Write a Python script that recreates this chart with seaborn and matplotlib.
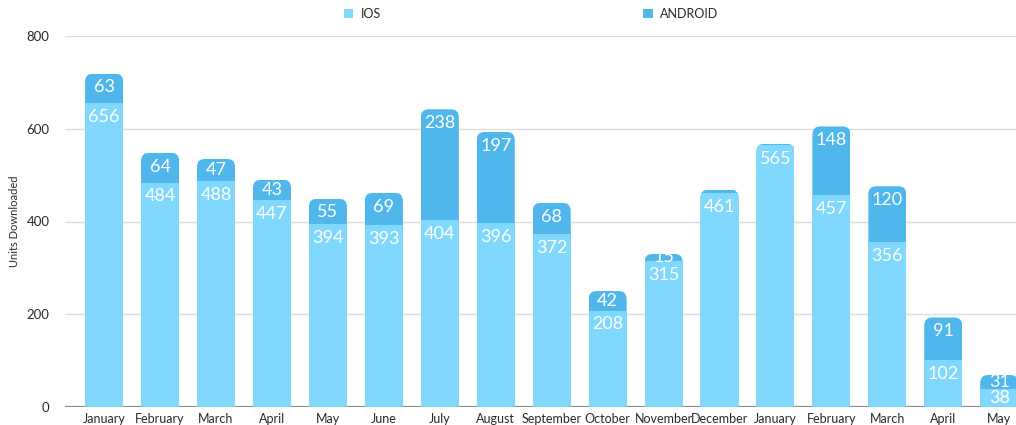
import numpy as np
import pandas as pd
import matplotlib
matplotlib.use("Agg")
import matplotlib.pyplot as plt
import seaborn as sns
from matplotlib.patches import FancyBboxPatch, Patch
from matplotlib.transforms import Bbox, TransformedBbox

months = ["January", "February", "March", "April", "May", "June", "July", "August",
          "September", "October", "November", "December", "January", "February",
          "March", "April", "May"]
ios = [656, 484, 488, 447, 394, 393, 404, 396, 372, 208, 315, 461, 565, 457, 356, 102, 38]
android = [63, 64, 47, 43, 55, 69, 238, 197, 68, 42, 15, 8, 3, 148, 120, 91, 31]
yticks = [0, 200, 400, 600, 800]

IOS_C = "#80d8fc"
AND_C = "#4fb7ec"

sns.set_theme(style="white")
plt.rcParams['font.family'] = ['Lato', 'DejaVu Sans']

W, H = 1016, 425
fig = plt.figure(figsize=(W / 100, H / 100), dpi=100)
ax_l, ax_r, ax_t, ax_b = 65, 1016, 36, 407
ax = fig.add_axes([ax_l / W, 1 - ax_b / H, (ax_r - ax_l) / W, (ax_b - ax_t) / H])

n = len(ios)
df = pd.DataFrame({"idx": list(range(n)), "ios": ios, "android": android})
df["total"] = df["ios"] + df["android"]

sns.barplot(data=df, x="idx", y="total", color=AND_C, saturation=1, width=0.68,
            linewidth=0, edgecolor="none", ax=ax, zorder=2)
sns.barplot(data=df, x="idx", y="ios", color=IOS_C, saturation=1, width=0.68,
            linewidth=0, edgecolor="none", ax=ax, zorder=2)

xmin, xmax = -0.7, 16.3
ax.set_xlim(xmin, xmax)
ax.set_ylim(0, 800)

px_x = (ax_r - ax_l) / (xmax - xmin)
px_y = (ax_b - ax_t) / 800
r_px = 8
rs = r_px / px_x
m_aspect = px_x / px_y

tot_patches = ax.patches[:n]
ios_patches = ax.patches[n:2 * n]
for i in range(n):
    p = tot_patches[i]
    x0, w, h = p.get_x(), p.get_width(), p.get_height()
    clip = FancyBboxPatch((x0, -60), w, h + 60,
                          boxstyle=f"round,pad=0,rounding_size={rs}",
                          mutation_aspect=m_aspect, transform=ax.transData)
    p.set_clip_path(clip)
    ios_patches[i].set_clip_path(clip)

    cbox = TransformedBbox(Bbox([[x0, 0], [x0 + w, h]]), ax.transData)
    yi = ios[i] - min(30, ios[i] / 2)
    t = ax.text(i, yi, str(ios[i]), ha="center", va="center", color="white",
                fontsize=13, zorder=5)
    t.set_clip_box(cbox)
    t.set_clip_on(True)
    if android[i] >= 10:
        ya = h - min(30, android[i] / 2)
        t = ax.text(i, ya, str(android[i]), ha="center", va="center", color="white",
                    fontsize=13, zorder=5)
        t.set_clip_box(cbox)
        t.set_clip_on(True)

ax.set_yticks(yticks)
ax.set_xticks(range(n))
ax.set_xticklabels(months)
ax.yaxis.grid(True, color="#dcdcdc", linewidth=1)
ax.set_axisbelow(True)
ax.axhline(0, color="#8a8a8a", linewidth=1.6, zorder=1)
for s in ax.spines.values():
    s.set_visible(False)
ax.tick_params(axis="both", length=0, colors="#2a2a2a")
ax.tick_params(axis="y", pad=11, labelsize=9.5)
ax.tick_params(axis="x", pad=4, labelsize=9)
ax.set_xlabel("")
ax.set_ylabel("Units Downloaded", fontsize=8, color="#2a2a2a", labelpad=5)

handles = [Patch(facecolor=IOS_C, edgecolor="none", label="IOS"),
           Patch(facecolor=AND_C, edgecolor="none", label="ANDROID")]
fig.legend(handles=handles, loc="upper left", bbox_to_anchor=(336 / W, 1.0),
           ncol=2, frameon=False, fontsize=9, handlelength=0.75, handleheight=0.75,
           handletextpad=0.6, columnspacing=21.0, borderaxespad=0.3, borderpad=0.3,
           labelcolor="#2a2a2a")

fig.savefig("out.png", dpi=100)
